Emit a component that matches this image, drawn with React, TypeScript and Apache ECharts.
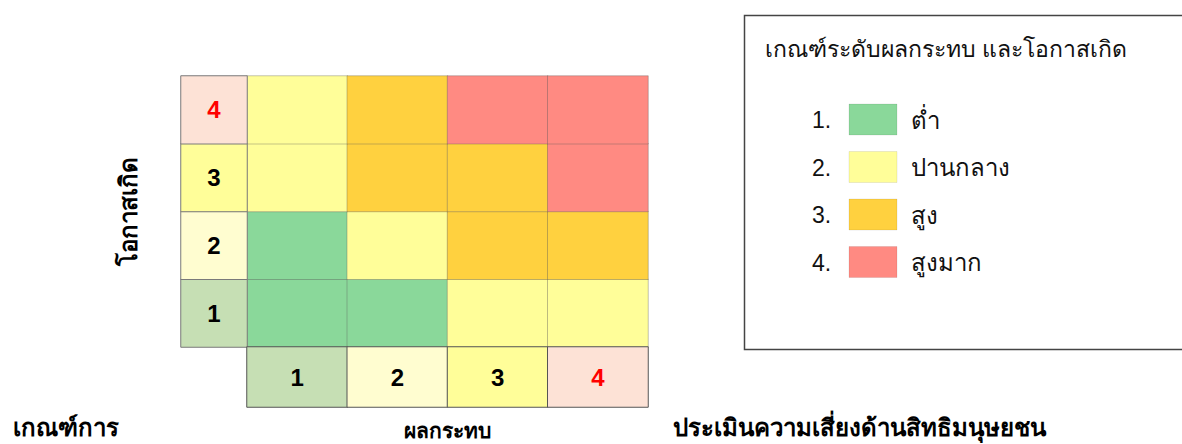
import React, { useEffect, useRef } from "react";
import * as echarts from "echarts";

// Axis categories
const impactCategories = ["1", "2", "3", "4"]; // ผลกระทบ (x)
const likelihoodCategories = ["1", "2", "3", "4"]; // โอกาสเกิด (y)

// Risk level per cell, one row per likelihood level, columns = impact 1..4
const likelihood1 = [1, 1, 2, 2];
const likelihood2 = [1, 2, 3, 3];
const likelihood3 = [2, 3, 3, 4];
const likelihood4 = [2, 3, 4, 4];
const riskRows = [likelihood1, likelihood2, likelihood3, likelihood4];

// Risk levels / legend
const riskLevels = [1, 2, 3, 4];
const riskNames = ["ต่ำ", "ปานกลาง", "สูง", "สูงมาก"];
const riskColors = ["#8AD89A", "#FFFE99", "#FFD13F", "#FF8A82"];

// Header cell colours (levels 1..4)
const headerColors = ["#C6DFB4", "#FFFDD0", "#FFFE99", "#FDE2D6"];
const headerTextColors = ["#000000", "#000000", "#000000", "#FF0000"];

const legendTitle = "เกณฑ์ระดับผลกระทบ และโอกาสเกิด";
const titleLeft = "เกณฑ์การ";
const titleRight = "ประเมินความเสี่ยงด้านสิทธิมนุษยชน";
const yAxisName = "โอกาสเกิด";
const xAxisName = "ผลกระทบ";

const FONT = "'Noto Sans', 'DejaVu Sans', sans-serif";
const NUM_FONT = "'Liberation Sans', Arial, sans-serif";

export default function App() {
  const ref = useRef<HTMLDivElement>(null);

  useEffect(() => {
    if (!ref.current) return;
    const chart = echarts.init(ref.current, undefined, { renderer: "svg" });

    const matrixData: any[] = [];
    riskRows.forEach((row, yi) => {
      row.forEach((v, xi) => matrixData.push([xi, yi, v]));
    });

    const yHeaderData = likelihoodCategories.map((c, i) => ({
      value: [0, i, i + 1],
      label: { color: headerTextColors[i] },
    }));
    const xHeaderData = impactCategories.map((c, i) => ({
      value: [i, 0, i + 1],
      label: { color: headerTextColors[i] },
    }));

    const numLabel = {
      show: true,
      fontFamily: NUM_FONT,
      fontSize: 24,
      fontWeight: 600,
    };

    const legendItems: any[] = [];
    const legendY0 = 104;
    const legendStep = 47.5;
    riskLevels.forEach((lvl, i) => {
      const y = legendY0 + i * legendStep;
      legendItems.push({
        type: "text",
        x: 812,
        y: y + 16,
        style: {
          text: lvl + ".",
          font: `23px ${NUM_FONT}`,
          fill: "#111",
          verticalAlign: "middle",
        },
      });
      legendItems.push({
        type: "rect",
        shape: { x: 849, y, width: 48, height: 31 },
        style: { fill: riskColors[i], stroke: "rgba(0,0,0,0.08)", lineWidth: 1 },
      });
      legendItems.push({
        type: "text",
        x: 911,
        y: y + 15,
        style: {
          text: riskNames[i],
          font: `24px ${FONT}`,
          fill: "#111",
          verticalAlign: "middle",
        },
      });
    });

    chart.setOption({
      animation: false,
      backgroundColor: "#ffffff",
      title: [
        {
          text: titleLeft,
          left: 8,
          top: 409,
          textStyle: { fontFamily: FONT, fontSize: 24, fontWeight: "bold", color: "#000" },
        },
        {
          text: titleRight,
          left: 668,
          top: 409,
          textStyle: { fontFamily: FONT, fontSize: 24, fontWeight: "bold", color: "#000" },
        },
      ],
      grid: [
        { left: 247, top: 76, width: 401, height: 271, outerBoundsMode: "none", containLabel: false },
        { left: 181, top: 76, width: 66, height: 271, outerBoundsMode: "none", containLabel: false },
        { left: 247, top: 347, width: 401, height: 60, outerBoundsMode: "none", containLabel: false },
      ],
      xAxis: [
        { type: "category", gridIndex: 0, data: impactCategories, show: false },
        { type: "category", gridIndex: 1, data: ["y"], show: false },
        {
          type: "category",
          gridIndex: 2,
          data: impactCategories,
          position: "bottom",
          axisLine: { show: false },
          axisTick: { show: false },
          axisLabel: { show: false },
          splitLine: { show: false },
          name: xAxisName,
          nameLocation: "middle",
          nameGap: 12,
          nameTextStyle: { fontFamily: FONT, fontSize: 21, fontWeight: "bold", color: "#000" },
        },
      ],
      yAxis: [
        { type: "category", gridIndex: 0, data: likelihoodCategories, show: false },
        {
          type: "category",
          gridIndex: 1,
          data: likelihoodCategories,
          axisLine: { show: false },
          axisTick: { show: false },
          axisLabel: { show: false },
          splitLine: { show: false },
          name: yAxisName,
          nameLocation: "middle",
          nameRotate: 90,
          nameGap: 42,
          nameTextStyle: { fontFamily: FONT, fontSize: 24, fontWeight: "bold", color: "#000" },
        },
        { type: "category", gridIndex: 2, data: ["x"], show: false },
      ],
      visualMap: [
        {
          type: "piecewise",
          show: false,
          seriesIndex: 0,
          dimension: 2,
          pieces: riskLevels.map((lvl, i) => ({ value: lvl, color: riskColors[i] })),
        },
        {
          type: "piecewise",
          show: false,
          seriesIndex: [1, 2],
          dimension: 2,
          pieces: riskLevels.map((lvl, i) => ({ value: lvl, color: headerColors[i] })),
        },
      ],
      series: [
        {
          type: "heatmap",
          xAxisIndex: 0,
          yAxisIndex: 0,
          data: matrixData,
          itemStyle: { borderColor: "rgba(90,90,90,0.35)", borderWidth: 1 },
          emphasis: { disabled: true },
          label: { show: false },
        },
        {
          type: "heatmap",
          xAxisIndex: 1,
          yAxisIndex: 1,
          data: yHeaderData,
          itemStyle: { borderColor: "#7a7a7a", borderWidth: 1 },
          emphasis: { disabled: true },
          label: { ...numLabel, formatter: (p: any) => likelihoodCategories[p.value[1]] },
        },
        {
          type: "heatmap",
          xAxisIndex: 2,
          yAxisIndex: 2,
          data: xHeaderData,
          itemStyle: { borderColor: "#555555", borderWidth: 1 },
          emphasis: { disabled: true },
          label: { ...numLabel, formatter: (p: any) => impactCategories[p.value[0]] },
        },
      ],
      graphic: [
        {
          type: "rect",
          shape: { x: 744.5, y: 15.5, width: 460, height: 334 },
          style: { fill: "#ffffff", stroke: "#444", lineWidth: 1.5 },
          z: -1,
        },
        {
          type: "text",
          x: 765,
          y: 48,
          style: {
            text: legendTitle,
            font: `23px ${FONT}`,
            fill: "#111",
            verticalAlign: "middle",
          },
        },
        ...legendItems,
      ],
    });

    return () => chart.dispose();
  }, []);

  return (
    <div
      ref={ref}
      style={{ position: "absolute", left: 0, top: 0, width: 1182, height: 444 }}
    />
  );
}
